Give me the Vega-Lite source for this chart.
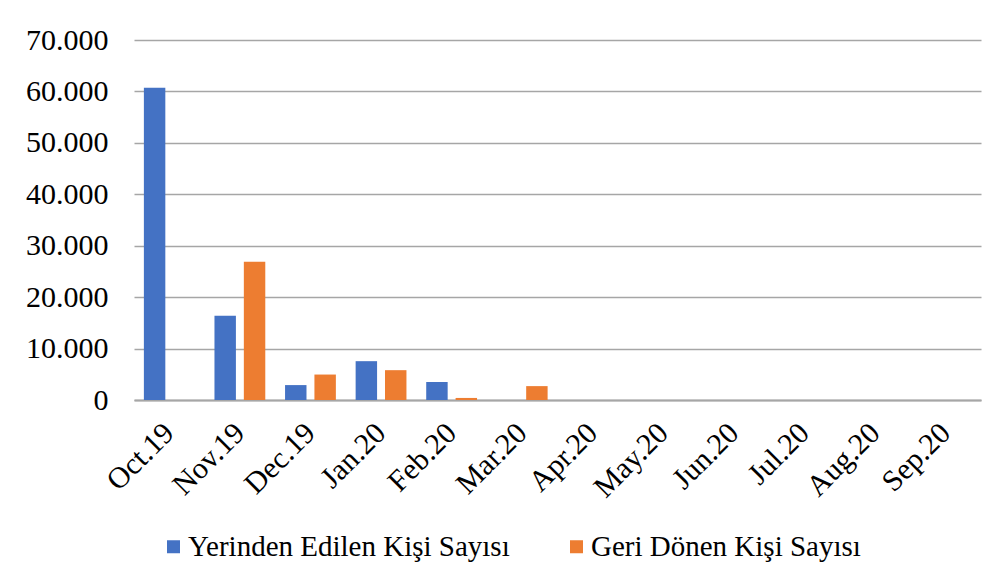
{
  "$schema": "https://vega.github.io/schema/vega-lite/v6.json",
  "autosize": {"type": "none"},
  "width": 847,
  "height": 360,
  "padding": {"left": 134, "top": 40, "right": 21, "bottom": 187},
  "background": "white",
  "config": {
    "locale": {"number": {"decimal": ",", "thousands": ".", "grouping": [3], "currency": ["", " ₺"]}},
    "font": "Liberation Serif",
    "view": {"stroke": null},
    "axis": {"labelFont": "Liberation Serif"},
    "legend": {"labelFont": "Liberation Serif"}
  },
  "data": {
    "values": [
      {"month": "Oct.19", "series": "Yerinden Edilen Kişi Sayısı", "value": 60700},
      {"month": "Oct.19", "series": "Geri Dönen Kişi Sayısı", "value": 0},
      {"month": "Nov.19", "series": "Yerinden Edilen Kişi Sayısı", "value": 16400},
      {"month": "Nov.19", "series": "Geri Dönen Kişi Sayısı", "value": 26900},
      {"month": "Dec.19", "series": "Yerinden Edilen Kişi Sayısı", "value": 2900},
      {"month": "Dec.19", "series": "Geri Dönen Kişi Sayısı", "value": 4950},
      {"month": "Jan.20", "series": "Yerinden Edilen Kişi Sayısı", "value": 7550},
      {"month": "Jan.20", "series": "Geri Dönen Kişi Sayısı", "value": 5800},
      {"month": "Feb.20", "series": "Yerinden Edilen Kişi Sayısı", "value": 3500},
      {"month": "Feb.20", "series": "Geri Dönen Kişi Sayısı", "value": 400},
      {"month": "Mar.20", "series": "Yerinden Edilen Kişi Sayısı", "value": 0},
      {"month": "Mar.20", "series": "Geri Dönen Kişi Sayısı", "value": 2700},
      {"month": "Apr.20", "series": "Yerinden Edilen Kişi Sayısı", "value": 0},
      {"month": "Apr.20", "series": "Geri Dönen Kişi Sayısı", "value": 0},
      {"month": "May.20", "series": "Yerinden Edilen Kişi Sayısı", "value": 0},
      {"month": "May.20", "series": "Geri Dönen Kişi Sayısı", "value": 0},
      {"month": "Jun.20", "series": "Yerinden Edilen Kişi Sayısı", "value": 0},
      {"month": "Jun.20", "series": "Geri Dönen Kişi Sayısı", "value": 0},
      {"month": "Jul.20", "series": "Yerinden Edilen Kişi Sayısı", "value": 0},
      {"month": "Jul.20", "series": "Geri Dönen Kişi Sayısı", "value": 0},
      {"month": "Aug.20", "series": "Yerinden Edilen Kişi Sayısı", "value": 0},
      {"month": "Aug.20", "series": "Geri Dönen Kişi Sayısı", "value": 0},
      {"month": "Sep.20", "series": "Yerinden Edilen Kişi Sayısı", "value": 0},
      {"month": "Sep.20", "series": "Geri Dönen Kişi Sayısı", "value": 0}
    ]
  },
  "mark": {"type": "bar"},
  "encoding": {
    "x": {
      "field": "month",
      "type": "nominal",
      "sort": null,
      "scale": {"paddingInner": 0.28, "paddingOuter": 0.14},
      "axis": {
        "title": null,
        "labelAngle": -45,
        "labelAlign": "right",
        "labelBaseline": "middle",
        "labelFontSize": 30,
        "labelColor": "#000000",
        "labelFont": "Liberation Serif",
        "ticks": false,
        "labelPadding": 28,
        "domainColor": "#a6a6a6",
        "domainWidth": 2,
        "grid": false
      }
    },
    "xOffset": {
      "field": "series",
      "type": "nominal",
      "sort": ["Yerinden Edilen Kişi Sayısı", "Geri Dönen Kişi Sayısı"],
      "scale": {"paddingInner": 0.27, "paddingOuter": 0}
    },
    "y": {
      "field": "value",
      "type": "quantitative",
      "scale": {"domain": [0, 70000], "nice": false},
      "axis": {
        "title": null,
        "values": [0, 10000, 20000, 30000, 40000, 50000, 60000, 70000],
        "format": ",.0f",
        "labelFontSize": 30,
        "labelColor": "#000000",
        "labelFont": "Liberation Serif",
        "ticks": false,
        "domain": false,
        "labelPadding": 26,
        "gridColor": "#a6a6a6",
        "gridWidth": 1.5
      }
    },
    "color": {
      "field": "series",
      "type": "nominal",
      "scale": {
        "domain": ["Yerinden Edilen Kişi Sayısı", "Geri Dönen Kişi Sayısı"],
        "range": ["#4472c4", "#ed7d31"]
      },
      "legend": {
        "title": null,
        "orient": "none",
        "legendX": 25,
        "legendY": 492,
        "direction": "horizontal",
        "columns": 2,
        "columnPadding": 52,
        "symbolType": "square",
        "symbolSize": 169,
        "symbolStrokeWidth": 0,
        "labelFontSize": 29,
        "labelFont": "Liberation Serif",
        "labelColor": "#000000",
        "labelOffset": 0,
        "labelLimit": 0
      }
    }
  }
}
